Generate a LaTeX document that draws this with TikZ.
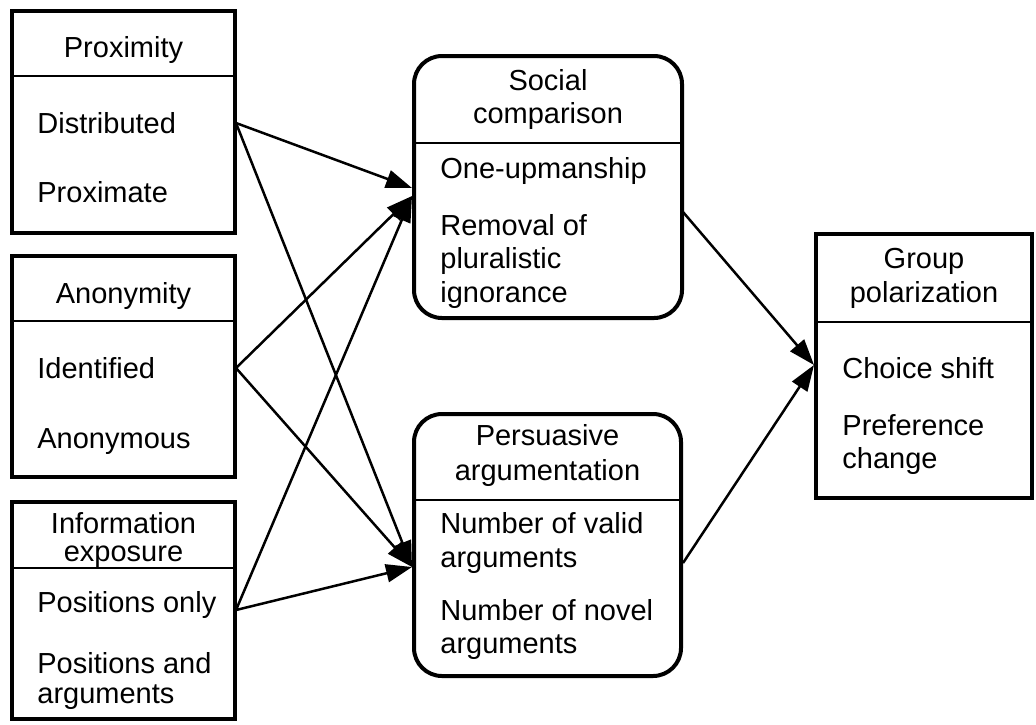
\documentclass[tikz,border=0pt]{standalone}
\usepackage{fontspec}
\setmainfont{Liberation Sans}
\usetikzlibrary{arrows.meta}
\newcommand\diafont{\fontsize{14.5}{17}\selectfont}
\begin{document}
\begin{tikzpicture}[x=0.5pt,y=-0.5pt,
  box/.style={draw, line width=2pt, inner sep=0pt, outer sep=0pt},
  rbox/.style={box, rounded corners=14pt},
  divline/.style={line width=1.2pt},
  hd/.style={font=\diafont, inner sep=0pt, anchor=base},
  it/.style={font=\diafont, inner sep=0pt, anchor=base west},
  arr/.style={line width=1.25pt, -{Triangle[length=13pt,width=9pt]}}]
\useasboundingbox (0,0) rectangle (1036,724);
\fill[white] (0,0) rectangle (1036,724);

% boxes
\node[box, minimum width=111.5pt, minimum height=111pt] (prox) at (123.5,122) {};
\node[box, minimum width=111.5pt, minimum height=110.5pt] (anon) at (123.5,366.5) {};
\node[box, minimum width=111.5pt, minimum height=108.5pt] (info) at (123.5,610.5) {};
\node[rbox, minimum width=134pt, minimum height=131pt] (soc) at (548,187) {};
\node[rbox, minimum width=133.5pt, minimum height=131pt] (pers) at (547.5,545) {};
\node[box, minimum width=108pt, minimum height=132pt] (grp) at (924,366) {};

% dividers
\draw[divline] (prox.west |- 0,76) -- (prox.east |- 0,76);
\draw[divline] (anon.west |- 0,321) -- (anon.east |- 0,321);
\draw[divline] (info.west |- 0,568) -- (info.east |- 0,568);
\draw[divline] (soc.west |- 0,143) -- (soc.east |- 0,143);
\draw[divline] (pers.west |- 0,500) -- (pers.east |- 0,500);
\draw[divline] (grp.west |- 0,322) -- (grp.east |- 0,322);

% headers
\node[hd] (hprox) at (123.5,57) {Proximity};
\node[hd] (hanon) at (123.5,303) {Anonymity};
\node[hd] (hinfoa) at (123.5,533) {Information};
\node[hd] (hinfob) at (123.5,561) {exposure};
\node[hd] (hsoca) at (548,90) {Social};
\node[hd] (hsocb) at (548,123) {comparison};
\node[hd] (hpersa) at (547.5,445) {Persuasive};
\node[hd] (hpersb) at (547.5,480) {argumentation};
\node[hd] (hgrpa) at (924,268) {Group};
\node[hd] (hgrpb) at (924,302) {polarization};

% items
\node[it] (tdist) at (37,133) {Distributed};
\node[it] (tproxm) at (37,202) {Proximate};
\node[it] (tiden) at (37,378) {Identified};
\node[it] (tanon) at (37,448) {Anonymous};
\node[it] (tposo) at (37,612) {Positions only};
\node[it] (tposa) at (37,673) {Positions and};
\node[it] (tposb) at (37,703) {arguments};
\node[it] (tone) at (440,178) {One-upmanship};
\node[it] (trema) at (440,235) {Removal of};
\node[it] (tremb) at (440,268) {pluralistic};
\node[it] (tremc) at (440,302) {ignorance};
\node[it] (tvala) at (440,533) {Number of valid};
\node[it] (tvalb) at (440,567) {arguments};
\node[it] (tnova) at (440,620) {Number of novel};
\node[it] (tnovb) at (440,653) {arguments};
\node[it] (tcho) at (842,378) {Choice shift};
\node[it] (tprefa) at (842,435) {Preference};
\node[it] (tprefb) at (842,468) {change};

% ports
\coordinate (pD) at (236,123);
\coordinate (pI) at (236,368);
\coordinate (pP) at (236,610);
\coordinate (sA) at (412,188);
\coordinate (sB) at (412,196);
\coordinate (qA) at (412,567);
\coordinate (sO) at (683,212);
\coordinate (qO) at (683,563);
\coordinate (gI) at (814,365);

% connectors
\draw[arr] (pD) -- (sA);
\draw[arr] (pD) -- (qA);
\draw[arr] (pI) -- (sB);
\draw[arr] (pI) -- (qA);
\draw[arr] (pP) -- (sB);
\draw[arr] (pP) -- (qA);
\draw[arr] (sO) -- (gI);
\draw[arr] (qO) -- (gI);
\end{tikzpicture}
\end{document}
